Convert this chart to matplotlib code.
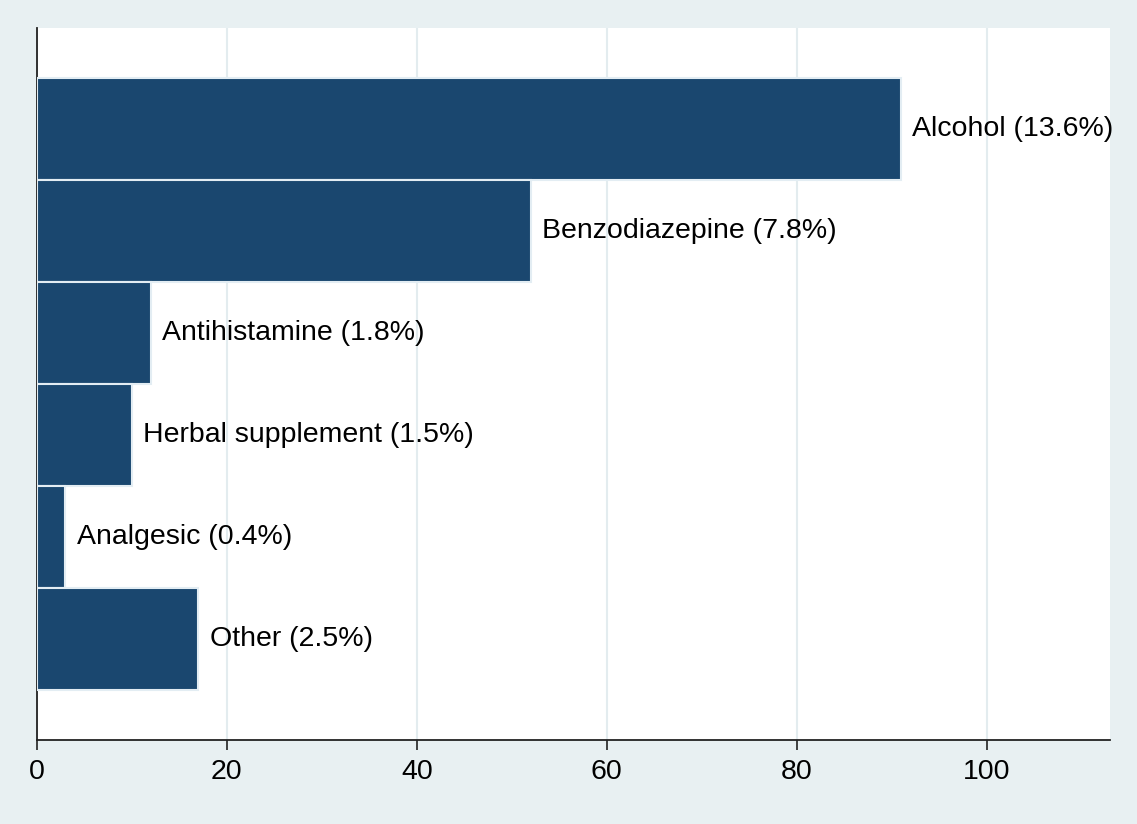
import matplotlib.pyplot as plt

# data
labels = ['Alcohol (13.6%)', 'Benzodiazepine (7.8%)', 'Antihistamine (1.8%)',
          'Herbal supplement (1.5%)', 'Analgesic (0.4%)', 'Other (2.5%)']
counts = [91, 52, 12, 10, 3, 17]
xticks = [0, 20, 40, 60, 80, 100]

plt.rcParams['font.family'] = ['Liberation Sans', 'DejaVu Sans']

fig = plt.figure(figsize=(11.37, 8.24), dpi=100, facecolor='#e8f0f2')
ax = fig.add_axes([37/1137, 1 - 740/824, (1110-37)/1137, (740-28)/824])
ax.set_facecolor('white')

ypos = list(range(len(counts)))
ax.barh(ypos, counts, height=1.0, color='#1a476f', edgecolor='#e3edf3', linewidth=1.5, zorder=3)

for y, c, lab in zip(ypos, counts, labels):
    ax.annotate(lab, (c, y), xytext=(8, 0), textcoords='offset points',
                va='center', ha='left', fontsize=20.5, color='black', zorder=4)

ax.set_xlim(0, 113)
ax.set_ylim(len(counts) - 0.5 + 0.49, -0.5 - 0.49)
ax.set_xticks(xticks)
ax.tick_params(axis='x', labelsize=20.5, length=7, width=1.2, color='#222222', pad=7)
ax.set_yticks([])
ax.grid(axis='x', color='#e3ecef', linewidth=1.5, zorder=0)
ax.spines['top'].set_visible(False)
ax.spines['right'].set_visible(False)
ax.spines['left'].set_color('#222222')
ax.spines['bottom'].set_color('#222222')
ax.spines['left'].set_linewidth(1.3)
ax.spines['bottom'].set_linewidth(1.3)

fig.savefig('out.png', dpi=100, facecolor=fig.get_facecolor())
